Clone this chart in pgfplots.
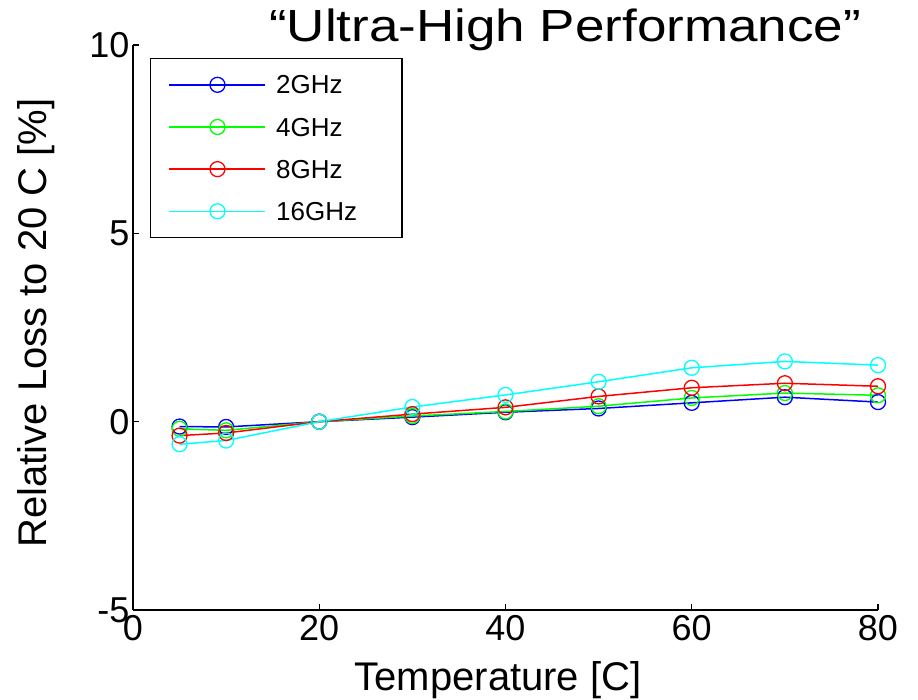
\documentclass[border=0pt]{standalone}
\usepackage{fontspec}
\setmainfont{Liberation Sans}
\usepackage{graphicx}
\usepackage{pgfplots}
\pgfplotsset{compat=1.18}
\begin{document}
\begin{tikzpicture}
\begin{axis}[
  scale only axis,
  width=745pt, height=565pt,
  xmin=0, xmax=80, ymin=-5, ymax=10,
  xtick={0,20,40,60,80}, ytick={-5,0,5,10},
  axis x line*=bottom, axis y line*=left,
  axis line style={line width=1.5pt},
  tick align=inside, major tick length=6pt,
  tick style={line width=1.2pt, black},
  /pgf/number format/assume math mode=true,
  tick label style={font=\fontsize{36}{36}\selectfont},
  xticklabel style={yshift=-2pt},
  yticklabel style={xshift=0pt},
  label style={font=\fontsize{40}{40}\selectfont},
  xlabel={Temperature [C]},
  xlabel style={at={(axis description cs:0.49,-0.1416)}, anchor=base},
  ylabel={Relative Loss to 20 C [\%]},
  ylabel style={at={(axis description cs:-0.1155,0.508)}, anchor=base, rotate=0},
  title={\scalebox{1}[0.85]{“Ultra-High Performance”}},
  title style={at={(axis description cs:0.58,1)}, anchor=base, yshift=-3pt, font=\fontsize{53}{53}\selectfont},
  every axis plot/.append style={line width=1.5pt, mark=o, mark size=7.5pt, mark options={line width=1.3pt}},
  legend cell align=left,
  legend style={at={(axis description cs:0.0228,0.977)}, anchor=north west, draw=black, line width=1.5pt,
    font=\fontsize{26}{26}\selectfont, row sep=20pt, column sep=8pt, inner xsep=18pt, inner ysep=15pt,
    nodes={text width=106pt, text depth=0pt}},
  legend image code/.code={\draw[mark repeat=2,mark phase=2] plot coordinates {(0pt,0pt) (48pt,0pt) (96pt,0pt)};},
]
\addplot[color={rgb,1:red,0;green,0;blue,1}] coordinates {(5,-0.13) (10,-0.14) (20,0) (30,0.12) (40,0.25) (50,0.35) (60,0.50) (70,0.65) (80,0.52)};
\addplot[color={rgb,1:red,0;green,1;blue,0}] coordinates {(5,-0.19) (10,-0.23) (20,0) (30,0.15) (40,0.27) (50,0.41) (60,0.63) (70,0.76) (80,0.70)};
\addplot[color={rgb,1:red,1;green,0;blue,0}] coordinates {(5,-0.37) (10,-0.30) (20,0) (30,0.20) (40,0.38) (50,0.67) (60,0.90) (70,1.02) (80,0.94)};
\addplot[color={rgb,1:red,0;green,1;blue,1}] coordinates {(5,-0.60) (10,-0.50) (20,0) (30,0.39) (40,0.71) (50,1.06) (60,1.43) (70,1.60) (80,1.50)};
\legend{2GHz,4GHz,8GHz,16GHz}
\end{axis}
\pgfresetboundingbox
\useasboundingbox (-133pt,-89pt) rectangle (785pt,610pt);
\end{tikzpicture}
\end{document}
